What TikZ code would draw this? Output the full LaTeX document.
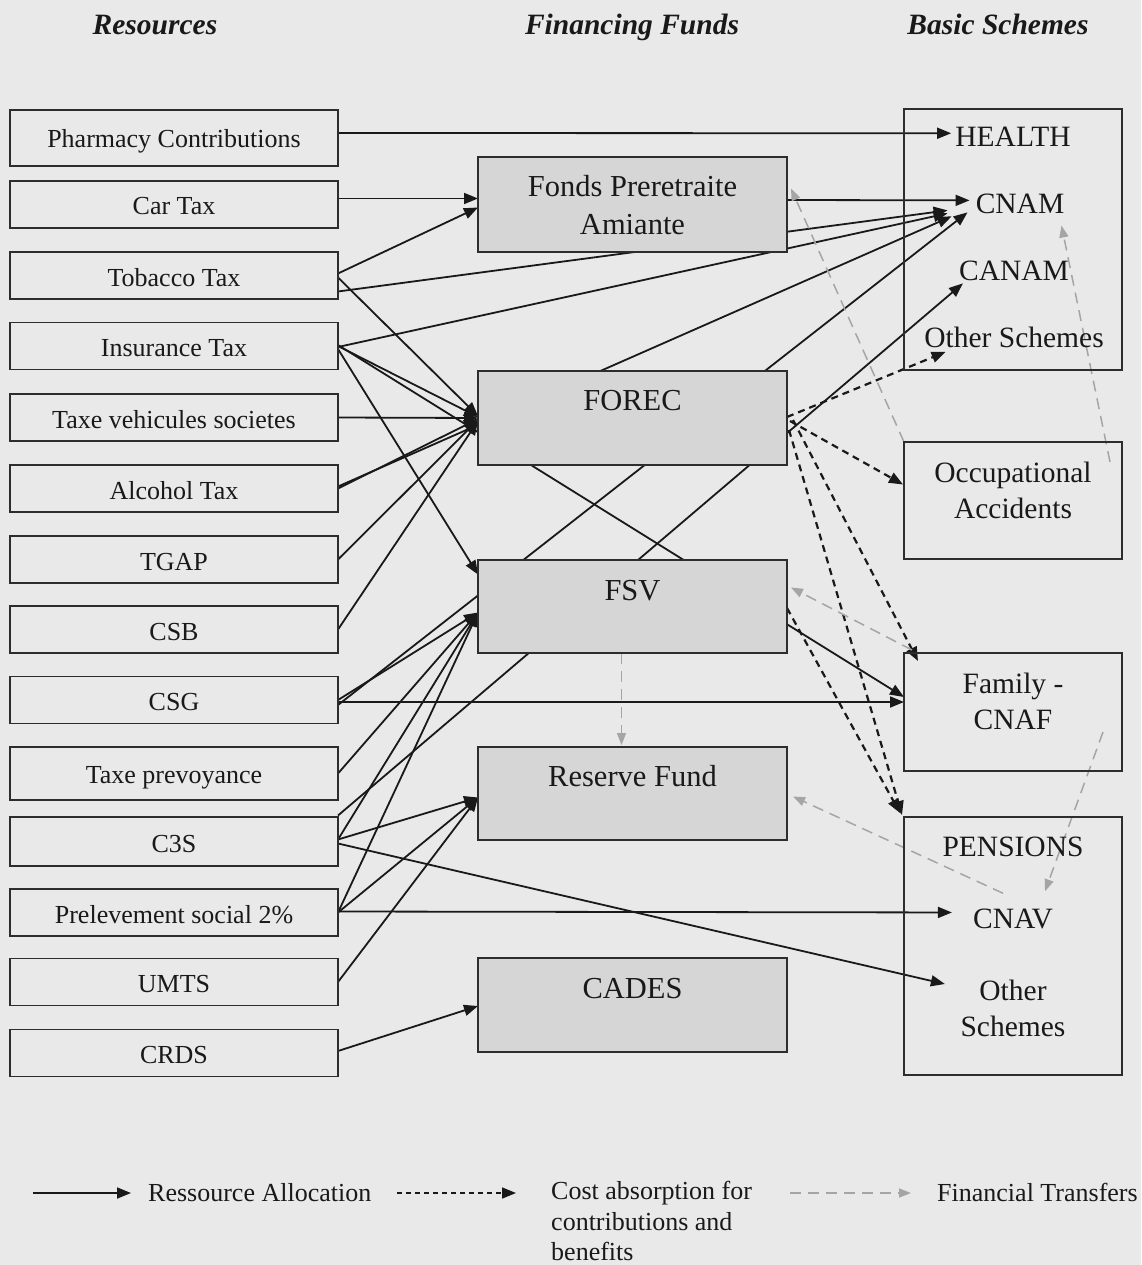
\documentclass[tikz,border=0pt]{standalone}
\usepackage{fontspec}
\setmainfont{Liberation Serif}
\usetikzlibrary{arrows.meta,calc}
\definecolor{bgc}{RGB}{233,233,233}
\definecolor{fundc}{RGB}{214,214,214}
\definecolor{edgec}{RGB}{45,45,45}
\definecolor{inkc}{RGB}{25,25,25}
\definecolor{xferc}{RGB}{165,165,165}
\pgfdeclarelayer{background}
\pgfdeclarelayer{conn}
\pgfsetlayers{background,conn,main}
\begin{document}
\begin{tikzpicture}[x=1pt,y=-1pt,
 lbox/.style={draw=edgec,line width=1.8pt,minimum width=328pt,minimum height=47pt,inner sep=0pt,outer sep=0pt,
   font=\fontsize{26}{30}\selectfont,text=inkc,text height=21pt,text depth=0pt},
 fbox/.style={draw=edgec,fill=fundc,line width=1.8pt,minimum width=309pt,minimum height=94pt,inner sep=0pt,outer sep=0pt},
 rbox/.style={draw=edgec,line width=1.8pt,minimum width=218pt,inner sep=0pt,outer sep=0pt},
 ftext/.style={font=\fontsize{30.5}{38}\selectfont,align=center,text=inkc,inner sep=0pt},
 rtext/.style={font=\fontsize{29.5}{36}\selectfont,align=center,text=inkc,inner sep=0pt},
 head/.style={font=\fontsize{29.5}{34}\selectfont\bfseries\itshape,text=inkc,inner sep=0pt},
 legtext/.style={font=\fontsize{26}{30.5}\selectfont,text=inkc,align=left,inner sep=0pt},
 alloc/.style={draw=inkc,line width=1.8pt,-{Triangle[length=14pt,width=11pt]}},
 absorb/.style={draw=inkc,line width=2.2pt,dash pattern=on 7pt off 5pt,-{Triangle[length=14pt,width=11pt]}},
 xfer/.style={draw=xferc,line width=1.5pt,dash pattern=on 11pt off 7pt,-{Triangle[length=12pt,width=9pt]}},
]
\useasboundingbox (0,0) rectangle (1141,1265);
\begin{pgfonlayer}{background}
\fill[bgc] (0,0) rectangle (1141,1265);
\end{pgfonlayer}

% headers
\node[head,anchor=base] (h1) at (155,35) {Resources};
\node[head,anchor=base] (h2) at (632,35) {Financing Funds};
\node[head,anchor=base] (h3) at (998,35) {Basic Schemes};

% resources
\node[lbox,minimum height=56pt,text height=19pt] (r1) at (174,138) {Pharmacy Contributions};
\node[lbox] (r2) at (174,204.5) {Car Tax};
\node[lbox] (r3) at (174,275.5) {Tobacco Tax};
\node[lbox] (r4) at (174,346) {Insurance Tax};
\node[lbox] (r5) at (174,417.5) {Taxe vehicules societes};
\node[lbox] (r6) at (174,488.5) {Alcohol Tax};
\node[lbox] (r7) at (174,559.5) {TGAP};
\node[lbox] (r8) at (174,629.5) {CSB};
\node[lbox] (r9) at (174,700) {CSG};
\node[lbox,minimum height=53pt,text height=19pt] (r10) at (174,773.5) {Taxe prevoyance};
\node[lbox,minimum height=49pt] (r11) at (174,841.5) {C3S};
\node[lbox] (r12) at (174,912.5) {Prelevement social 2\%};
\node[lbox] (r13) at (174,982) {UMTS};
\node[lbox] (r14) at (174,1053) {CRDS};

% financing funds
\node[fbox,minimum height=95pt] (fonds) at (632.5,204.5) {};
\node[ftext] (fondsT) at (632.5,205.5) {Fonds Preretraite\\Amiante};
\node[fbox] (forec) at (632.5,418) {};
\node[ftext,anchor=base] (forecT) at (632.5,410) {FOREC};
\node[fbox,minimum height=93pt] (fsv) at (632.5,606.5) {};
\node[ftext,anchor=base] (fsvT) at (632.5,600) {FSV};
\node[fbox,minimum height=93pt] (reserve) at (632.5,793.5) {};
\node[ftext,anchor=base] (reserveT) at (632.5,786) {Reserve Fund};
\node[fbox] (cades) at (632.5,1005) {};
\node[ftext,anchor=base] (cadesT) at (632.5,998) {CADES};

% basic schemes
\node[rbox,minimum height=261pt] (hb) at (1013,239.5) {};
\node[rtext,anchor=base] (health) at (1013,147) {HEALTH};
\node[rtext,anchor=base] (cnam) at (1020,214) {CNAM};
\node[rtext,anchor=base] (canam) at (1014,280) {CANAM};
\node[rtext,anchor=base] (othersch) at (1014,347) {Other Schemes};
\node[rbox,minimum height=117pt] (occ) at (1013,500.5) {};
\node[rtext] (occT) at (1013,490) {Occupational\\Accidents};
\node[rbox,minimum height=118pt] (cnafb) at (1013,712) {};
\node[rtext] (cnafT) at (1013,701) {Family -\\CNAF};
\node[rbox,minimum height=258pt] (pens) at (1013,946) {};
\node[rtext,anchor=base] (pensT) at (1013,856) {PENSIONS};
\node[rtext,anchor=base] (cnav) at (1013,928) {CNAV};
\node[rtext] (pother) at (1013,1008) {Other\\Schemes};

% legend
\coordinate (l1a) at (33,1193);
\coordinate (l1b) at (131,1193);
\coordinate (l2a) at (397,1193);
\coordinate (l2b) at (516,1193);
\coordinate (l3a) at (790,1193);
\coordinate (l3b) at (911,1193);
\node[legtext,anchor=base west] (lt1) at (148,1201) {Ressource Allocation};
\node[legtext,anchor=north west] (lt2) at (551,1181) {Cost absorption for\\contributions and\\benefits};
\node[legtext,anchor=base west] (lt3) at (937,1201) {Financial Transfers};

\begin{pgfonlayer}{conn}
% resource allocation
\draw[alloc] ($(r1.east)+(0,-5)$) -- ($(health.west)+(-4,-4)$);
\draw[alloc] ($(r2.east)+(0,-6)$) -- ($(fonds.west)+(0,-6)$);
\draw[alloc] ($(r3.east)+(0,-2)$) -- ($(fonds.west)+(0,3)$);
\draw[alloc] ($(r3.east)+(0,16)$) -- ($(cnam.west)+(-28,6)$);
\draw[alloc] ($(r3.east)+(0,2)$) -- ($(forec.west)+(0,-2)$);
\draw[alloc] ($(r4.east)+(0,1)$) -- ($(cnam.west)+(-28,9)$);
\draw[alloc] (r4.east) -- ($(forec.west)+(0,-1)$);
\draw[alloc] ($(r4.east)+(0,-1)$) -- ($(cnafb.west)+(0,-15)$);
\draw[alloc] ($(r4.east)+(0,3)$) -- ($(fsv.west)+(0,-32)$);
\draw[alloc] (r5.east) -- (forec.west);
\draw[alloc] ($(r6.east)+(0,-2)$) -- ($(cnam.west)+(-24,12)$);
\draw[alloc] (r6.east) -- ($(forec.west)+(0,1)$);
\draw[alloc] (r7.east) -- ($(forec.west)+(0,2)$);
\draw[alloc] (r8.east) -- ($(forec.west)+(0,3)$);
\draw[alloc] ($(r9.east)+(0,5)$) -- ($(cnam.west)+(-8,8)$);
\draw[alloc] (r9.east) -- ($(fsv.west)+(0,6)$);
\draw[alloc] ($(r9.east)+(0,2)$) -- ($(cnafb.west)+(0,-10)$);
\draw[alloc] (r10.east) -- ($(fsv.west)+(0,6)$);
\draw[alloc] ($(r11.east)+(0,-26)$) -- ($(canam.west)+(4,13)$);
\draw[alloc] ($(r11.east)+(0,-2)$) -- ($(fsv.west)+(0,6)$);
\draw[alloc] ($(r11.east)+(0,-2)$) -- ($(reserve.west)+(0,4)$);
\draw[alloc] ($(r11.east)+(0,2)$) -- ($(pother.west)+(-15.5,-24)$);
\draw[alloc] (r12.east) -- ($(fsv.west)+(0,6)$);
\draw[alloc] (r12.east) -- ($(reserve.west)+(0,4)$);
\draw[alloc] ($(r12.east)+(0,-1)$) -- ($(cnav.west)+(-21,-6)$);
\draw[alloc] (r13.east) -- ($(reserve.west)+(0,4)$);
\draw[alloc] ($(r14.east)+(0,-2)$) -- ($(cades.west)+(0,1)$);
\draw[alloc] ($(fonds.east)+(0,-4.5)$) -- ($(cnam.west)+(-6,-4)$);
% cost absorption
\draw[absorb] ($(forec.east)+(0,-1)$) -- ($(othersch.west)+(21.5,15)$);
\draw[absorb] ($(forec.east)+(3,3)$) -- ($(occ.west)+(-1,-16)$);
\draw[absorb] ($(forec.east)+(6,2)$) -- ($(cnafb.north west)+(14,8)$);
\draw[absorb] ($(forec.east)+(2,12)$) -- ($(pens.north west)+(-2,-2)$);
\draw[absorb] ($(fsv.east)+(0,1.5)$) -- ($(pens.north west)+(-4,-4)$);
% financial transfers
\draw[xfer] (occ.north west) -- ($(fonds.east)+(4,-16)$);
\draw[xfer] ($(occ.north east)+(-12,20)$) -- ($(cnam.south east)+(-3,11)$);
\draw[xfer] ($(fsv.south)+(-11,0)$) -- ($(reserve.north)+(-11,-2)$);
\draw[xfer] ($(cnafb.north west)+(8,-3)$) -- ($(fsv.east)+(4,-19)$);
\draw[xfer] ($(cnav.north)+(-10,-15)$) -- ($(reserve.east)+(6,3)$);
\draw[xfer] ($(cnafb.east)+(-19,20)$) -- ($(cnav.north)+(32,-17)$);
% legend
\draw[alloc] (l1a) -- (l1b);
\draw[absorb,line width=1.6pt,dash pattern=on 5pt off 4pt] (l2a) -- (l2b);
\draw[xfer] (l3a) -- (l3b);
\end{pgfonlayer}
\end{tikzpicture}
\end{document}
